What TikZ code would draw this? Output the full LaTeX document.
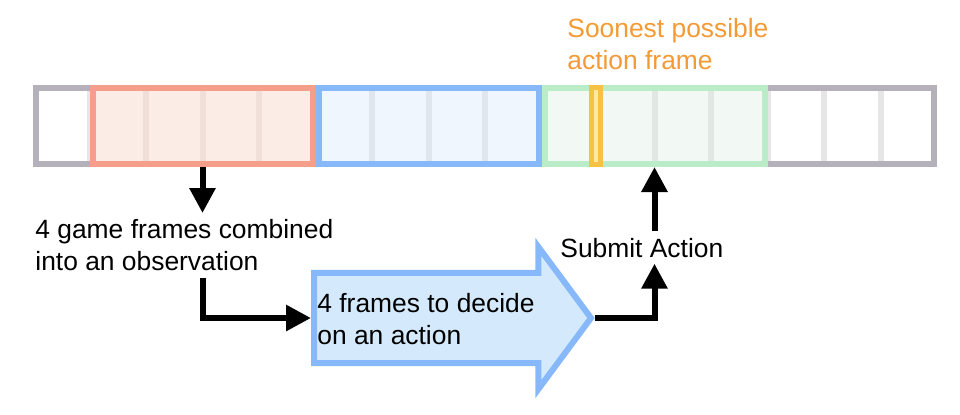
\documentclass[tikz,border=0pt]{standalone}
\usepackage{fontspec}
\setmainfont{Liberation Sans}
\usepackage{tikz}
\usetikzlibrary{calc,positioning,arrows.meta,shapes.arrows}

\definecolor{stripgray}{RGB}{180,177,187}
\definecolor{dividergray}{RGB}{230,230,230}
\definecolor{obsline}{RGB}{245,158,138}
\definecolor{obsfill}{RGB}{250,215,200}
\definecolor{decline}{RGB}{134,184,250}
\definecolor{decfill}{RGB}{210,230,252}
\definecolor{actline}{RGB}{186,236,200}
\definecolor{actfill}{RGB}{215,235,220}
\definecolor{soonline}{RGB}{246,194,68}
\definecolor{soonfill}{RGB}{255,232,160}
\definecolor{soontext}{RGB}{244,154,52}
\definecolor{arrowfill}{RGB}{212,234,252}

\begin{document}
\begin{tikzpicture}[
                x=0.5pt,y=-0.5pt,
                frame group/.style={draw,line width=3pt,minimum width=110pt,minimum height=38pt,inner sep=0pt,outer sep=1.5pt},
                note/.style={font=\fontsize{13.2}{16.2}\selectfont,align=left,inner sep=3pt},
                flow/.style={line width=3pt,-{Triangle[length=12.5pt,width=12.5pt]}}
            ]
                \useasboundingbox (0,0) rectangle (960,414);
                \node [frame group,draw=stripgray,fill=white,minimum width=449pt] (strip) at (485,126) {};
                \foreach \i in {1,...,15} {
                    \draw [dividergray,line width=3pt] ({33+56.5*\i},91) -- ({33+56.5*\i},161);
                }
                \node [frame group,draw=obsline,fill=obsfill,fill opacity=0.45] (obs) at (202.5,126) {};
                \node [frame group,draw=decline,fill=decfill,fill opacity=0.35] (dec) at (428.5,126) {};
                \node [frame group,draw=actline,fill=actfill,fill opacity=0.3] (act) at (654.5,126) {};
                \node [draw=soonline,fill=soonfill,line width=2.5pt,minimum width=4.5pt,minimum height=38.5pt,inner sep=0pt] (soon) at (596,126) {};
                \node [note,text=soontext,anchor=north west] (soonlabel) at (561,12) {Soonest possible\\action frame};
                \node [note,anchor=north west] (obslabel) at (29,213) {4 game frames combined\\into an observation};
                \node [single arrow,draw=decline,fill=arrowfill,line width=3pt,inner xsep=0pt,inner ysep=21.1pt,
                    minimum height=138.5pt,minimum width=68pt,single arrow head extend=12.9pt,
                    single arrow tip angle=107,anchor=tail] (decide) at (311,318) {};
                \node [note,anchor=north west] (decidelabel) at (311,287) {4 frames to decide\\on an action};
                \node [note,anchor=base west] (submit) at (554,257) {Submit Action};
                \draw [flow] (obs.south) -- (obs.south |- obslabel.north);
                \draw [flow] (obs.south |- obslabel.south) |- (decide.tail);
                \draw [flow] (decide.tip) -| (act.south |- submit.south);
                \draw [flow] (act.south |- submit.north) -- (act.south);
            \end{tikzpicture}
\end{document}
